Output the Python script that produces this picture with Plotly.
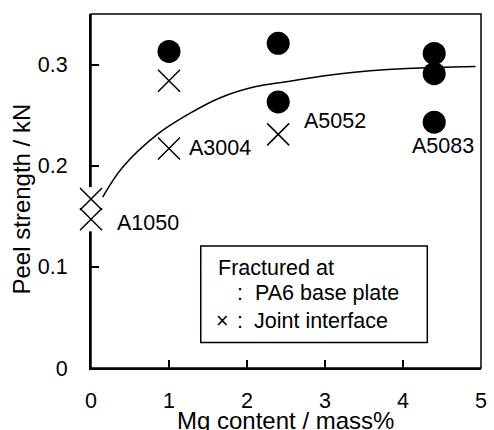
import plotly.graph_objects as go

# ---- data ----
pa6_x = [1.0, 2.4, 2.4, 4.4, 4.4, 4.4]
pa6_y = [0.313, 0.321, 0.263, 0.311, 0.291, 0.243]

joint_x = [0.0, 0.0, 1.0, 1.0, 2.4]
joint_y = [0.167, 0.147, 0.284, 0.217, 0.231]

fit_x = [0.15, 0.4, 0.85, 1.25, 1.65, 2.1, 2.5, 3.2, 4.05, 4.93]
fit_y = [0.169, 0.198, 0.231, 0.251, 0.267, 0.278, 0.283, 0.291, 0.296, 0.298]

alloy_names = ["A1050", "A3004", "A5052", "A5083"]

x_ticks = [0, 1, 2, 3, 4, 5]
y_ticks = [0, 0.1, 0.2, 0.3]
y_tick_labels = ["0", "0.1", "0.2", "0.3"]

# ---- layout geometry (pixels) ----
W, H = 494, 430
L, R, T, B = 90.7, 487.3, 14.3, 367.7
PW, PH = R - L, B - T
FONT = "Arial, Liberation Sans, sans-serif"
FS = 21.5


def px(x):
    return (x - L) / PW


def py(y):
    return (B - y) / PH


fig = go.Figure()

# white patches behind A1050 crosses (axis line gap)
fig.add_trace(go.Scatter(
    x=joint_x[:2], y=joint_y[:2], mode="markers",
    marker=dict(symbol="square", size=24, color="white", line=dict(width=0)),
    cliponaxis=False, hoverinfo="skip", showlegend=False))

fig.add_trace(go.Scatter(
    x=fit_x, y=fit_y, mode="lines", line=dict(color="black", width=1.5, shape="spline"),
    showlegend=False))

fig.add_trace(go.Scatter(
    x=pa6_x, y=pa6_y, mode="markers",
    marker=dict(symbol="circle", size=23, color="black", line=dict(width=0)),
    cliponaxis=False, showlegend=False))

fig.add_trace(go.Scatter(
    x=joint_x, y=joint_y, mode="markers",
    marker=dict(symbol="x-thin-open", size=22, color="black", line=dict(width=1.5, color="black")),
    cliponaxis=False, showlegend=False))

annotations = []


def txt(text, x, y, xanchor="left", size=FS, angle=0):
    annotations.append(dict(
        text=text, x=px(x), y=py(y), xref="paper", yref="paper",
        xanchor=xanchor, yanchor="middle", showarrow=False, textangle=angle,
        font=dict(family=FONT, size=size, color="black")))


# alloy labels
txt(alloy_names[0], 115, 222.5)
txt(alloy_names[1], 188.3, 148.5)
txt(alloy_names[2], 305, 121)
txt(alloy_names[3], 448.3, 145.8, xanchor="center")

# legend text
txt("Fractured at", 218.3, 267.5)
txt(":", 242.7, 293.3, xanchor="center")
txt("PA6 base plate", 255, 293.3)
txt("\u00d7", 224.7, 320.7, xanchor="center")
txt(":", 242.7, 320.7, xanchor="center")
txt("Joint interface", 254, 320.7)

# axis titles
txt("Mg content / mass%", 288.5, 420, xanchor="center", size=24)
txt("Peel strength / kN", 20.5, 198.5, xanchor="center", size=24, angle=-90)

shapes = [
    dict(type="rect", xref="paper", yref="paper", x0=0, x1=1, y0=0, y1=1,
         line=dict(color="black", width=1.5), layer="below"),
    dict(type="rect", xref="paper", yref="paper",
         x0=px(202.3), x1=px(432.7), y0=py(342.3), y1=py(246),
         line=dict(color="black", width=1.5), fillcolor="rgba(0,0,0,0)", layer="above"),
]

fig.update_layout(
    width=W, height=H,
    margin=dict(l=L, r=W - R, t=T, b=H - B, pad=0),
    paper_bgcolor="white", plot_bgcolor="white",
    font=dict(family=FONT, size=FS, color="black"),
    annotations=annotations, shapes=shapes,
    xaxis=dict(range=[0, 5], tickvals=x_ticks, ticktext=[str(v) for v in x_ticks],
               ticks="inside", ticklen=8, tickwidth=1.5, tickcolor="black",
               showline=True, linewidth=2, linecolor="black", mirror=False,
               showgrid=False, zeroline=False, layer="below traces",
               ticklabelstandoff=12, tickfont=dict(family=FONT, size=FS)),
    yaxis=dict(range=[0, 0.35], tickvals=y_ticks, ticktext=y_tick_labels,
               ticks="inside", ticklen=8, tickwidth=1.5, tickcolor="black",
               showline=True, linewidth=2, linecolor="black", mirror=False,
               showgrid=False, zeroline=False, layer="below traces",
               ticklabelstandoff=17, tickfont=dict(family=FONT, size=FS)),
)

fig.write_html("out.html", config={"displayModeBar": False},
               post_script="document.body.style.margin='0';document.body.style.overflow='hidden';")
